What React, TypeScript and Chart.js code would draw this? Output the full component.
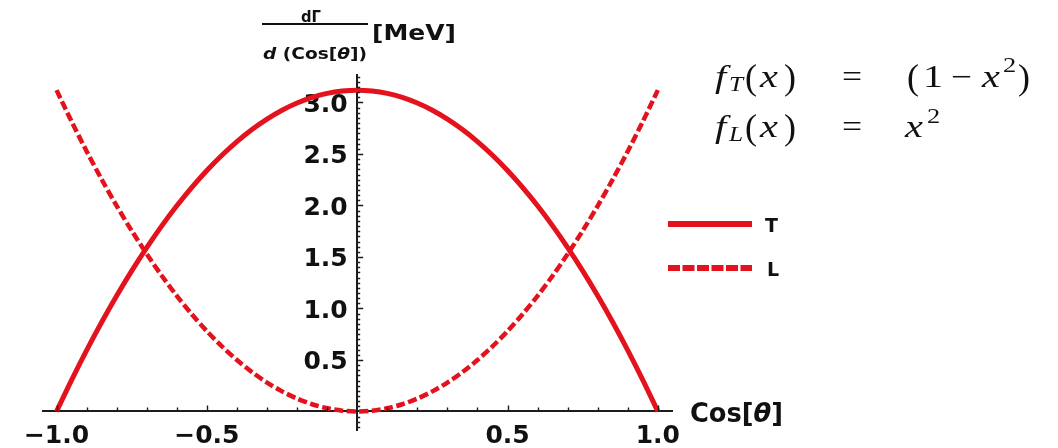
import React, { useEffect, useRef } from 'react';
import { Chart, registerables } from 'chart.js';

Chart.register(...registerables);

// ---- data ----
const COS_THETA = [
  -1, -0.95, -0.9, -0.85, -0.8, -0.75, -0.7, -0.65, -0.6, -0.55, -0.5,
  -0.45, -0.4, -0.35, -0.3, -0.25, -0.2, -0.15, -0.1, -0.05, 0,
  0.05, 0.1, 0.15, 0.2, 0.25, 0.3, 0.35, 0.4, 0.45, 0.5,
  0.55, 0.6, 0.65, 0.7, 0.75, 0.8, 0.85, 0.9, 0.95, 1,
];
const T_VALUES = [
  0, 0.304, 0.593, 0.866, 1.123, 1.365, 1.591, 1.802, 1.997, 2.176, 2.34,
  2.488, 2.621, 2.738, 2.839, 2.925, 2.995, 3.05, 3.089, 3.112, 3.12,
  3.112, 3.089, 3.05, 2.995, 2.925, 2.839, 2.738, 2.621, 2.488, 2.34,
  2.176, 1.997, 1.802, 1.591, 1.365, 1.123, 0.866, 0.593, 0.304, 0,
];
const L_VALUES = [
  3.12, 2.816, 2.527, 2.254, 1.997, 1.755, 1.529, 1.318, 1.123, 0.944, 0.78,
  0.632, 0.499, 0.382, 0.281, 0.195, 0.125, 0.07, 0.031, 0.008, 0,
  0.008, 0.031, 0.07, 0.125, 0.195, 0.281, 0.382, 0.499, 0.632, 0.78,
  0.944, 1.123, 1.318, 1.529, 1.755, 1.997, 2.254, 2.527, 2.816, 3.12,
];
const SERIES_LABELS = ['T', 'L'];
const X_TICKS = [-1, -0.5, 0.5, 1];
const Y_TICKS = [0.5, 1, 1.5, 2, 2.5, 3];

const RED = 'rgb(228,18,28)';
const AXIS = '#1c1c1c';
const TICK_FONT = { family: 'DejaVu Sans', weight: 'bold' as const, size: 25 };

const fmt = (v: number) => (v < 0 ? '\u2212' + Math.abs(v).toFixed(1) : v.toFixed(1));

type Part = { t: string; font: string };
function fitText(ctx: CanvasRenderingContext2D, parts: Part[], x0: number, x1: number, baseline: number) {
  let w = 0;
  for (const p of parts) { ctx.font = p.font; w += ctx.measureText(p.t).width; }
  const sx = (x1 - x0) / w;
  ctx.save();
  ctx.translate(x0, baseline);
  ctx.scale(sx, 1);
  ctx.textAlign = 'left';
  ctx.textBaseline = 'alphabetic';
  let x = 0;
  for (const p of parts) { ctx.font = p.font; ctx.fillText(p.t, x, 0); x += ctx.measureText(p.t).width; }
  ctx.restore();
}

function token(ctx: CanvasRenderingContext2D, t: string, font: string, x: number, baseline: number, sx = 1.3) {
  ctx.save();
  ctx.translate(x, baseline);
  ctx.scale(sx, 1);
  ctx.font = font;
  ctx.textAlign = 'left';
  ctx.textBaseline = 'alphabetic';
  ctx.fillText(t, 0, 0);
  ctx.restore();
}

const zeroPadding = (s: any) => {
  s.paddingTop = 0;
  s.paddingBottom = 0;
  s.paddingLeft = 0;
  s.paddingRight = 0;
};

const axisTicks = {
  id: 'axisTicks',
  afterDraw(chart: any) {
    const { ctx, scales } = chart;
    const xs = scales.x, ys = scales.y;
    const x0 = xs.getPixelForValue(0);
    const y0 = ys.getPixelForValue(0);
    ctx.save();
    ctx.strokeStyle = AXIS;
    ctx.lineWidth = 1.4;
    ctx.beginPath();
    for (let i = -10; i <= 10; i++) {
      if (i === 0) continue;
      const px = Math.round(xs.getPixelForValue(i / 10)) + 0.5;
      const len = i % 5 === 0 ? 6 : 4;
      ctx.moveTo(px, y0);
      ctx.lineTo(px, y0 - len);
    }
    for (let i = -3; i <= 65; i++) {
      if (i === 0) continue;
      const py = Math.round(ys.getPixelForValue(i * 0.05)) + 0.5;
      const len = i % 10 === 0 ? 6 : 3;
      ctx.moveTo(x0, py);
      ctx.lineTo(x0 + len, py);
    }
    ctx.stroke();
    ctx.restore();
  },
};

const annotations = {
  id: 'annotations',
  afterDraw(chart: any) {
    const { ctx } = chart;
    const ds = chart.data.datasets;
    ctx.save();
    ctx.fillStyle = '#111';
    // y axis title (fraction)
    fitText(ctx, [{ t: 'd\u0393', font: 'bold 16px "DejaVu Sans"' }], 301, 321, 22);
    ctx.fillRect(262, 23, 106, 2);
    fitText(ctx, [
      { t: 'd', font: 'italic bold 15px "DejaVu Sans"' },
      { t: ' (Cos[', font: 'bold 15px "DejaVu Sans"' },
      { t: '\u03B8', font: 'italic bold 15px "DejaVu Sans"' },
      { t: '])', font: 'bold 15px "DejaVu Sans"' },
    ], 263, 367, 59);
    fitText(ctx, [{ t: '[MeV]', font: 'bold 22px "DejaVu Sans"' }], 372, 456, 40);
    // x axis title
    fitText(ctx, [
      { t: 'Cos[', font: 'bold 26px "DejaVu Sans"' },
      { t: '\u03B8', font: 'italic bold 26px "DejaVu Sans"' },
      { t: ']', font: 'bold 26px "DejaVu Sans"' },
    ], 690, 783, 422);

    // legend
    const legendRows = [
      { y: 224, label: ds[0].label, dash: [] as number[], lx: 765, base: 232 },
      { y: 268, label: ds[1].label, dash: [12, 2.5], lx: 767, base: 276 },
    ];
    for (const r of legendRows) {
      ctx.save();
      ctx.strokeStyle = RED;
      ctx.lineWidth = 6;
      ctx.lineCap = 'butt';
      ctx.setLineDash(r.dash);
      ctx.beginPath();
      ctx.moveTo(668, r.y);
      ctx.lineTo(752, r.y);
      ctx.stroke();
      ctx.restore();
      ctx.fillStyle = '#111';
      ctx.font = 'bold 19px "DejaVu Sans"';
      ctx.textAlign = 'left';
      ctx.textBaseline = 'alphabetic';
      ctx.fillText(r.label, r.lx, r.base);
    }

    // formulas
    ctx.fillStyle = '#111';
    const it = 'italic 31px "Liberation Serif"';
    const rm = '31px "Liberation Serif"';
    const par = '36px "Liberation Serif"';
    const sub = 'italic 22px "Liberation Serif"';
    const sup = '22px "Liberation Serif"';
    // line 1
    token(ctx, 'f', it, 715, 87);
    token(ctx, 'T', sub, 729, 91, 1.15);
    token(ctx, '(', par, 745, 89, 1.0);
    token(ctx, 'x', it, 760, 87);
    token(ctx, ')', par, 784, 89, 1.0);
    token(ctx, '=', rm, 842, 87, 1.15);
    token(ctx, '(', par, 907, 89, 1.0);
    token(ctx, '1', rm, 923, 87);
    token(ctx, '\u2212', rm, 951, 87, 1.2);
    token(ctx, 'x', it, 982, 87);
    token(ctx, '2', sup, 1003, 72, 1.2);
    token(ctx, ')', par, 1018, 89, 1.0);
    // line 2
    token(ctx, 'f', it, 715, 137);
    token(ctx, 'L', sub, 729, 141, 1.15);
    token(ctx, '(', par, 745, 139, 1.0);
    token(ctx, 'x', it, 760, 137);
    token(ctx, ')', par, 784, 139, 1.0);
    token(ctx, '=', rm, 842, 137, 1.15);
    token(ctx, 'x', it, 905, 137);
    token(ctx, '2', sup, 927, 123, 1.2);
    ctx.restore();
  },
};

export default function App() {
  const canvasRef = useRef<HTMLCanvasElement | null>(null);

  useEffect(() => {
    if (!canvasRef.current) return;
    const chart = new Chart(canvasRef.current, {
      type: 'line',
      data: {
        datasets: [
          {
            label: SERIES_LABELS[0],
            data: COS_THETA.map((x, i) => ({ x, y: T_VALUES[i] })),
            borderColor: RED,
            borderWidth: 5,
            pointRadius: 0,
            tension: 0.3,
            fill: false,
            borderCapStyle: 'butt',
          },
          {
            label: SERIES_LABELS[1],
            data: COS_THETA.map((x, i) => ({ x, y: L_VALUES[i] })),
            borderColor: RED,
            borderWidth: 4.5,
            borderDash: [9, 3.5],
            pointRadius: 0,
            tension: 0.3,
            fill: false,
            borderCapStyle: 'butt',
          },
        ],
      },
      options: {
        animation: false,
        responsive: false,
        devicePixelRatio: 1,
        layout: { padding: { left: 43, right: 386, top: 75, bottom: 18 } },
        plugins: { legend: { display: false }, tooltip: { enabled: false } },
        scales: {
          x: {
            type: 'linear',
            min: -1.045,
            max: 1.047,
            position: { y: 0 },
            grid: { display: false, drawTicks: false },
            border: { display: true, color: AXIS, width: 2 },
            afterBuildTicks: (s: any) => { s.ticks = X_TICKS.map((v) => ({ value: v })); },
            afterFit: zeroPadding,
            ticks: {
              autoSkip: false,
              maxRotation: 0,
              padding: 10,
              color: '#111',
              font: TICK_FONT,
              callback: (v: any) => fmt(Number(v)),
            },
          },
          y: {
            type: 'linear',
            min: -0.18,
            max: 3.267,
            position: { x: 0 },
            grid: { display: false, drawTicks: false },
            border: { display: true, color: AXIS, width: 2 },
            afterBuildTicks: (s: any) => { s.ticks = Y_TICKS.map((v) => ({ value: v })); },
            afterFit: zeroPadding,
            ticks: {
              autoSkip: false,
              padding: 9,
              labelOffset: 3,
              color: '#111',
              font: TICK_FONT,
              callback: (v: any) => Number(v).toFixed(1) + '\u2008',
            },
          },
        },
      },
      plugins: [axisTicks, annotations],
    } as any);
    return () => chart.destroy();
  }, []);

  return (
    <div style={{ position: 'fixed', left: 0, top: 0, width: 1058, height: 448, background: '#fff' }}>
      <canvas ref={canvasRef} width={1058} height={448} style={{ display: 'block' }} />
    </div>
  );
}
